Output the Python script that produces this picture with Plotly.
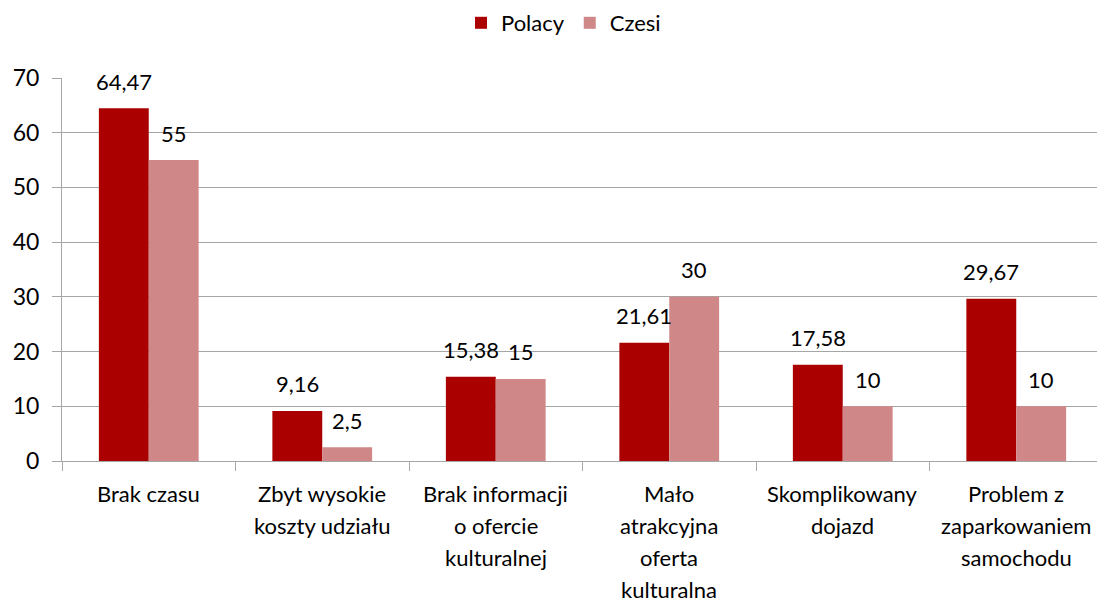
import plotly.graph_objects as go

categories = ["Brak czasu", "Zbyt wysokie<br>koszty udziału", "Brak informacji<br>o ofercie<br>kulturalnej",
              "Mało<br>atrakcyjna<br>oferta<br>kulturalna", "Skomplikowany<br>dojazd", "Problem z<br>zaparkowaniem<br>samochodu"]
polacy = [64.47, 9.16, 15.38, 21.61, 17.58, 29.67]
czesi = [55, 2.5, 15, 30, 10, 10]
y_ticks = [0, 10, 20, 30, 40, 50, 60, 70]

def fmt(v):
    return ("%g" % v).replace(".", ",")

FONT = "Lato, Open Sans, sans-serif"
FS = 22
# page body has an 8px default margin, so the figure is sized to fit the window
W, H = 1097, 596
L, R, T, B = 54, 2, 70, 143
BARGAP = 0.425

fig = go.Figure()
fig.add_trace(go.Bar(name="Polacy", x=categories, y=polacy, marker_color="#AA0000", marker_line_width=0))
fig.add_trace(go.Bar(name="Czesi", x=categories, y=czesi, marker_color="#D08787", marker_line_width=0))

cat_px = (W - L - R) / len(categories)
half = cat_px * (1 - BARGAP) / 4

annotations = []
for c, vp, vc in zip(categories, polacy, czesi):
    for v, sh in ((vp, -half), (vc, half)):
        annotations.append(dict(x=c, y=v, xref="x", yref="y", text=fmt(v), showarrow=False,
                                xshift=sh, yshift=27, yanchor="middle", xanchor="center",
                                font=dict(size=FS, color="#000", family=FONT)))
    for i, line in enumerate(c.split("<br>")):
        annotations.append(dict(x=c, y=0, xref="x", yref="paper", text=line, showarrow=False,
                                yshift=-32 - 32 * i, yanchor="middle", xanchor="center",
                                font=dict(size=FS, color="#000", family=FONT)))

fig.update_layout(
    width=W, height=H,
    paper_bgcolor="white", plot_bgcolor="white",
    font=dict(family=FONT, size=FS, color="#000"),
    barmode="group", bargap=BARGAP, bargroupgap=0,
    margin=dict(l=L, r=R, t=T, b=B, autoexpand=False),
    showlegend=True,
    legend=dict(orientation="h", x=0.5 - 19 / (W - L - R), xanchor="center",
                y=1 + (T - 15) / (H - T - B), yanchor="middle",
                font=dict(size=FS), traceorder="normal"),
    annotations=annotations,
)
fig.update_yaxes(range=[0, 70], tickvals=y_ticks, showgrid=True, gridcolor="#A6A6A6", gridwidth=1,
                 showline=True, linecolor="#A6A6A6", linewidth=1, ticks="outside", ticklen=9,
                 tickcolor="#A6A6A6", tickfont=dict(size=23), ticklabelstandoff=8,
                 zeroline=False, automargin=False)
fig.update_xaxes(showline=True, linecolor="#A6A6A6", linewidth=1, ticks="outside", ticklen=9,
                 tickcolor="#A6A6A6", tickson="boundaries", showticklabels=False, automargin=False)

fig.write_html("out.html")
